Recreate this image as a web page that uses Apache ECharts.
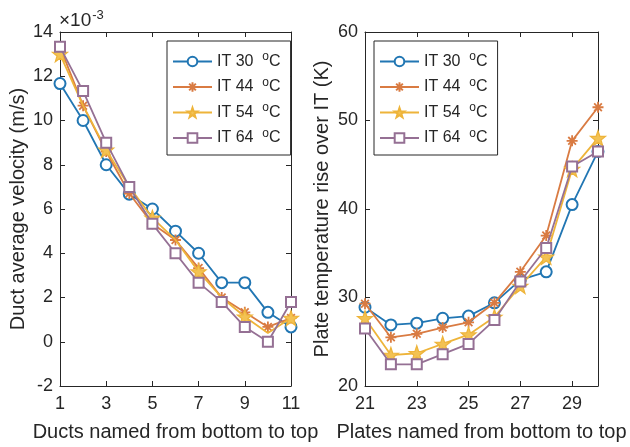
<!DOCTYPE html>
<html>
<head>
<meta charset="utf-8">
<script src="https://cdn.jsdelivr.net/npm/echarts@6/dist/echarts.min.js"></script>
<style>html,body{margin:0;padding:0;background:#fff;}#c{width:630px;height:447px;}</style>
</head>
<body>
<div id="c"></div>
<script>
// ---- data ----
var ducts = ['1','2','3','4','5','6','7','8','9','10','11'];
var ductIT30 = [11.67, 10.0, 8.0, 6.67, 6.0, 5.0, 4.0, 2.67, 2.67, 1.33, 0.67];
var ductIT44 = [13.33, 10.67, 8.6, 6.7, 5.33, 4.6, 3.33, 2.0, 1.33, 0.67, 1.07];
var ductIT54 = [13.0, 10.67, 8.67, 7.0, 5.6, 4.6, 3.17, 2.0, 1.13, 0.4, 1.07];
var ductIT64 = [13.33, 11.33, 9.0, 7.0, 5.33, 4.0, 2.67, 1.8, 0.67, 0.0, 1.8];

var plates = ['21','22','23','24','25','26','27','28','29','30'];
var plateIT30 = [28.9, 26.9, 27.1, 27.65, 27.9, 29.4, 32.0, 32.9, 40.5, 46.5];
var plateIT44 = [29.3, 25.5, 25.9, 26.6, 27.2, 29.4, 32.9, 37.0, 47.7, 51.5];
var plateIT54 = [27.65, 23.5, 23.7, 24.75, 25.8, 27.8, 31.3, 34.6, 44.5, 48.0];
var plateIT64 = [26.5, 22.45, 22.45, 23.6, 24.75, 27.45, 31.8, 35.6, 44.8, 46.5];

var seriesNames = ['IT 30', 'IT 44', 'IT 54', 'IT 64'];
var leftTicks = [-2, 14, 2];
var rightTicks = [20, 60, 10];

// ---- styling ----
var FONT = 'Liberation Sans';
var INK = '#262626';
var colors = ['#2176b3', '#d97b42', '#eeb43a', '#957094'];
var STAR = 'path://M0,-10L2.35,-3.24L9.51,-3.09L3.8,1.24L5.88,8.09L0,4L-5.88,8.09L-3.8,1.24L-9.51,-3.09L-2.35,-3.24Z';
var AST = 'path://M0,-10L0,10M-10,0L10,0M-7,-7L7,7M-7,7L7,-7';
var symbols = [
  {symbol: 'emptyCircle', size: 11, item: {color: colors[0], borderColor: colors[0], borderWidth: 1.6}},
  {symbol: AST, size: 11, item: {color: colors[1], borderColor: colors[1], borderWidth: 1.8}},
  {symbol: STAR, size: 15, item: {color: '#f3c253', borderColor: colors[2], borderWidth: 1.2}},
  {symbol: 'emptyRect', size: 10, item: {color: colors[3], borderColor: colors[3], borderWidth: 1.6}}
];

function mkSeries(name, idx, data, xi, yi) {
  var s = symbols[idx];
  return {
    name: name, type: 'line', xAxisIndex: xi, yAxisIndex: yi,
    data: data, symbol: s.symbol, symbolSize: s.size, showSymbol: true,
    itemStyle: s.item,
    lineStyle: {color: colors[idx], width: 1.8},
    color: colors[idx],
    emphasis: {disabled: true},
    z: 3 + idx
  };
}

function catAxis(gi, cats, pos, showLabel, name) {
  return {
    type: 'category', gridIndex: gi, data: cats, position: pos, boundaryGap: false,
    axisLine: {show: true, onZero: false, lineStyle: {color: INK, width: 1}},
    axisTick: {show: true, inside: true, length: 5, interval: 1, lineStyle: {color: INK}},
    axisLabel: {show: showLabel, interval: 1, margin: 9, color: INK, fontFamily: FONT, fontSize: 18},
    splitLine: {show: false},
    name: name || '', nameLocation: 'middle', nameGap: 36,
    nameTextStyle: {color: INK, fontFamily: FONT, fontSize: 20}
  };
}
function valAxis(gi, t, pos, showLabel, name, gap) {
  return {
    type: 'value', gridIndex: gi, min: t[0], max: t[1], interval: t[2], position: pos,
    axisLine: {show: true, onZero: false, lineStyle: {color: INK, width: 1}},
    axisTick: {show: true, inside: true, length: 5, lineStyle: {color: INK}},
    axisLabel: {show: showLabel, margin: 7, color: INK, fontFamily: FONT, fontSize: 18},
    splitLine: {show: false},
    name: name || '', nameLocation: 'middle', nameGap: gap || 30,
    nameTextStyle: {color: INK, fontFamily: FONT, fontSize: 20}
  };
}

function legendAt(left) {
  return {
    left: left, top: 41, orient: 'vertical',
    data: seriesNames,
    itemWidth: 39, itemHeight: 12, itemGap: 7,
    padding: [10, 10, 9, 5],
    borderColor: INK, borderWidth: 1, backgroundColor: '#fff',
    selectedMode: false,
    formatter: function (n) { return n + '  {s|o}C'; },
    textStyle: {color: INK, fontFamily: FONT, fontSize: 16,
      rich: {s: {fontSize: 12, fontFamily: FONT, color: INK, verticalAlign: 'top', padding: [0, 0, 9, 0]}}}
  };
}

var option = {
  animation: false,
  backgroundColor: '#fff',
  textStyle: {fontFamily: FONT},
  grid: [
    {left: 60, top: 32, width: 231, height: 354, show: false},
    {left: 365, top: 32, width: 233, height: 354, show: false}
  ],
  xAxis: [
    catAxis(0, ducts, 'bottom', true, 'Ducts named from bottom to top'),
    catAxis(0, ducts, 'top', false),
    catAxis(1, plates, 'bottom', true, 'Plates named from bottom to top'),
    catAxis(1, plates, 'top', false)
  ],
  yAxis: [
    valAxis(0, leftTicks, 'left', true, 'Duct average velocity (m/s)', 32),
    valAxis(0, leftTicks, 'right', false),
    valAxis(1, rightTicks, 'left', true, 'Plate temperature rise over IT (K)', 33),
    valAxis(1, rightTicks, 'right', false)
  ],
  legend: [legendAt(167), legendAt(374)],
  graphic: [{
    type: 'text', left: 59, top: 9,
    style: {text: '×10{s|-3}', fill: INK, font: '19px "Liberation Sans"',
      rich: {s: {fontSize: 13, fontFamily: FONT, fill: INK, verticalAlign: 'top', padding: [0, 0, 10, 1]}}}
  }],
  series: [
    mkSeries(seriesNames[0], 0, ductIT30, 0, 0),
    mkSeries(seriesNames[1], 1, ductIT44, 0, 0),
    mkSeries(seriesNames[2], 2, ductIT54, 0, 0),
    mkSeries(seriesNames[3], 3, ductIT64, 0, 0),
    mkSeries(seriesNames[0], 0, plateIT30, 2, 2),
    mkSeries(seriesNames[1], 1, plateIT44, 2, 2),
    mkSeries(seriesNames[2], 2, plateIT54, 2, 2),
    mkSeries(seriesNames[3], 3, plateIT64, 2, 2)
  ]
};

var chart = echarts.init(document.getElementById('c'), null, {renderer: 'canvas'});
chart.setOption(option);
</script>
</body>
</html>
